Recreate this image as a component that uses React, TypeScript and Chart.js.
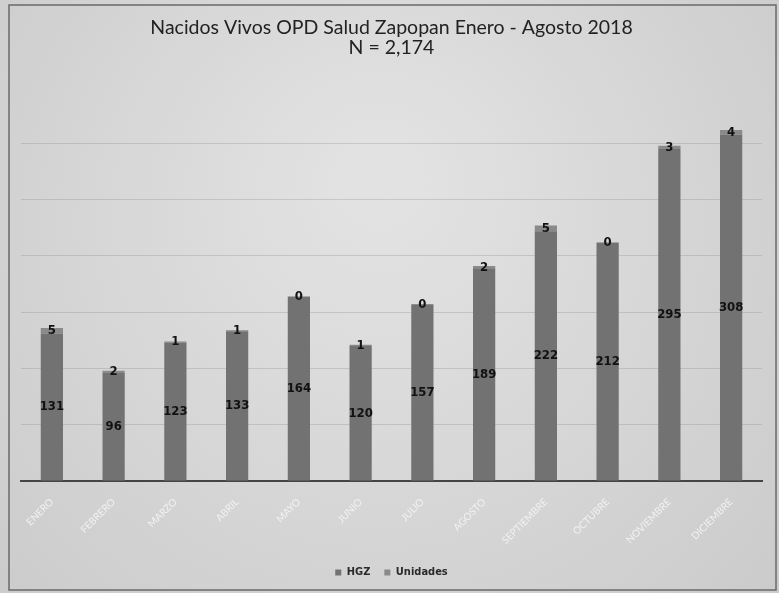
import React, { useEffect, useRef } from "react";
import { Chart, registerables } from "chart.js";

Chart.register(...registerables);

const months = ["ENERO", "FEBRERO", "MARZO", "ABRIL", "MAYO", "JUNIO", "JULIO", "AGOSTO", "SEPTIEMBRE", "OCTUBRE", "NOVIEMBRE", "DICIEMBRE"];
const hgz = [131, 96, 123, 133, 164, 120, 157, 189, 222, 212, 295, 308];
const unidades = [5, 2, 1, 1, 0, 1, 0, 2, 5, 0, 3, 4];
const titleLines = ["Nacidos Vivos OPD Salud Zapopan Enero - Agosto 2018", "N = 2,174"];
const seriesNames = ["HGZ", "Unidades"];

const bgPlugin = {
  id: "bgPlugin",
  beforeDraw(chart: any) {
    const { ctx, width, height } = chart;
    ctx.save();
    const g = ctx.createRadialGradient(380, 180, 40, 380, 260, 520);
    g.addColorStop(0, "#e2e2e2");
    g.addColorStop(1, "#cbcbcb");
    ctx.fillStyle = g;
    ctx.fillRect(0, 0, width, height);
    ctx.strokeStyle = "#6a6a6a";
    ctx.lineWidth = 1.5;
    ctx.strokeRect(9, 5, 767, 585);
    ctx.restore();
  },
};

const labelPlugin = {
  id: "labelPlugin",
  afterDatasetsDraw(chart: any) {
    const { ctx } = chart;
    ctx.save();
    ctx.font = "bold 13px 'Liberation Sans Narrow', 'DejaVu Sans Condensed', sans-serif";
    ctx.fillStyle = "#111";
    ctx.textAlign = "center";
    ctx.textBaseline = "middle";
    chart.data.datasets.forEach((ds: any, di: number) => {
      const meta = chart.getDatasetMeta(di);
      meta.data.forEach((el: any, i: number) => {
        const y = (el.y + el.base) / 2;
        ctx.fillText(String(ds.data[i]), el.x, y);
      });
    });
    ctx.restore();
  },
};

export default function App() {
  const ref = useRef<HTMLCanvasElement | null>(null);
  useEffect(() => {
    if (!ref.current) return;
    const chart = new Chart(ref.current, {
      type: "bar",
      data: {
        labels: months,
        datasets: [
          { label: seriesNames[0], data: hgz, backgroundColor: "#727272", borderWidth: 0, barPercentage: 0.36, categoryPercentage: 1 },
          { label: seriesNames[1], data: unidades, backgroundColor: "#8a8a8a", borderWidth: 0, barPercentage: 0.36, categoryPercentage: 1 },
        ],
      },
      options: {
        responsive: false,
        animation: false,
        layout: { padding: { left: 21, right: 17, top: 14, bottom: 5 } },
        plugins: {
          title: {
            display: true,
            text: titleLines,
            color: "#222",
            font: { family: "Lato, 'Open Sans', sans-serif", size: 19.5, weight: "normal", lineHeight: 1.03 },
            padding: { top: 4, bottom: 29 },
          },
          legend: {
            position: "bottom",
            labels: {
              color: "#2a2a2a",
              usePointStyle: true,
              pointStyle: "rect",
              boxWidth: 6,
              boxHeight: 6,
              padding: 14,
              font: { family: "'Liberation Sans Narrow', 'DejaVu Sans Condensed', sans-serif", size: 11, weight: "bold" },
            },
          },
          tooltip: { enabled: false },
        },
        scales: {
          x: {
            stacked: true,
            grid: { display: false },
            border: { display: true, color: "#454545", width: 2 },
            afterFit(scale: any) {
              scale.height = 72;
            },
            ticks: {
              color: "#f2f2f2",
              minRotation: 45,
              maxRotation: 45,
              padding: 7,
              font: { family: "Lato, 'Open Sans', sans-serif", size: 10 },
            },
          },
          y: {
            stacked: true,
            min: 0,
            max: 350,
            display: true,
            ticks: { display: false, stepSize: 50 },
            grid: {
              color: (c: any) => (c.tick && c.tick.value >= 350 ? "rgba(0,0,0,0)" : "rgba(130,130,130,0.28)"),
              drawTicks: false,
            },
            border: { display: false },
          },
        },
      },
      plugins: [bgPlugin, labelPlugin],
    });
    return () => chart.destroy();
  }, []);
  return (
    <div style={{ position: "fixed", left: 0, top: 0, width: 779, height: 593 }}>
      <canvas ref={ref} width={779} height={593} />
    </div>
  );
}
